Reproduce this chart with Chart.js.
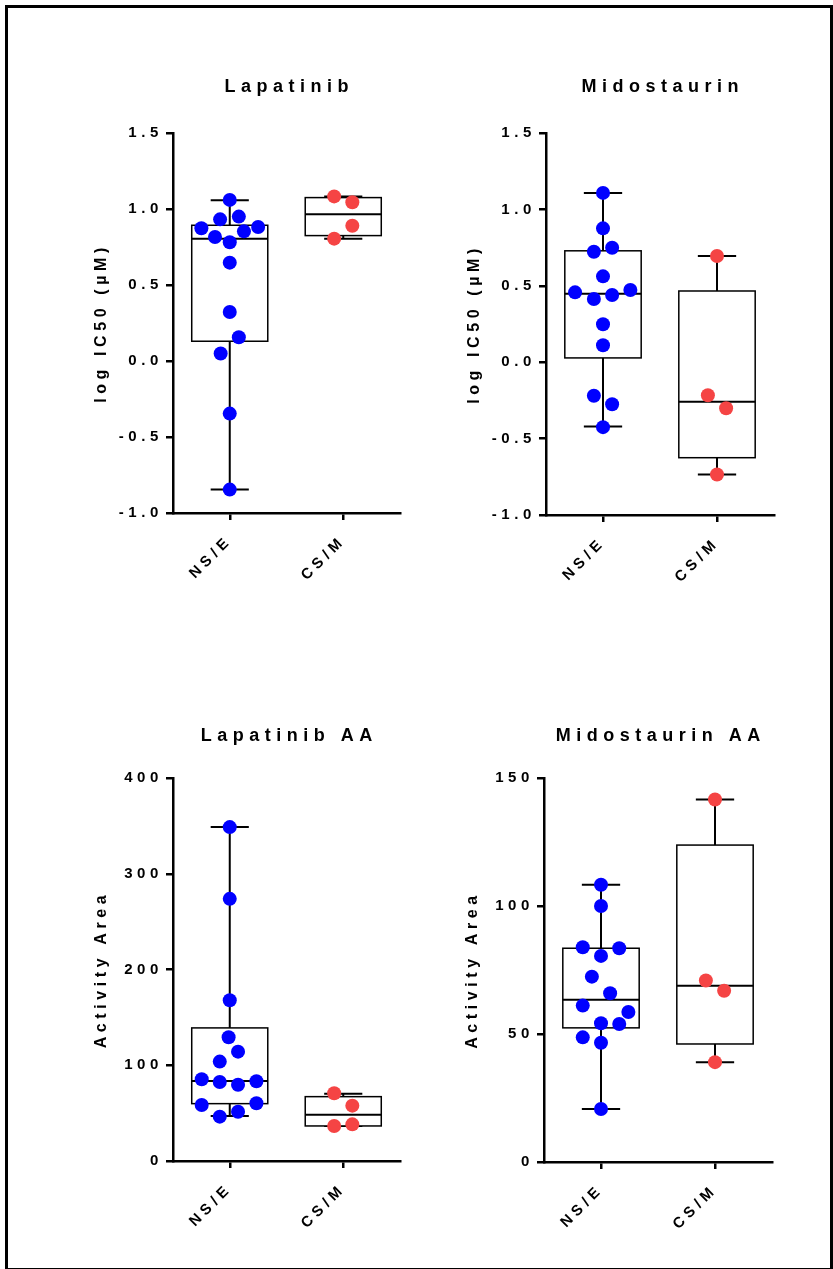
<!DOCTYPE html>
<html>
<head>
<meta charset="utf-8">
<script src="https://cdn.jsdelivr.net/npm/chart.js@4.4.1/dist/chart.umd.min.js"></script>
<style>
  html, body { margin: 0; padding: 0; background: #fff; }
  body { width: 833px; height: 1269px; position: relative; overflow: hidden; }
  #frame { position: absolute; left: 5px; top: 5px; width: 828px; height: 1266px;
           border: 3px solid #000; box-sizing: border-box; }
  canvas { position: absolute; }
</style>
</head>
<body>
<div id="frame"></div>
<canvas id="lap"></canvas>
<canvas id="mido"></canvas>
<canvas id="lapAA"></canvas>
<canvas id="midoAA"></canvas>
<script>
const categories = ['NS/E', 'CS/M'];

// Lapatinib - log IC50 (µM)
const lapNsE = [1.06, 0.932, 0.95, 0.873, 0.882, 0.816, 0.853, 0.781, 0.647, 0.322, 0.156, 0.049, -0.346, -0.846];
const lapNsEJitter = [0, -0.085, 0.08, -0.25, 0.25, -0.13, 0.125, 0, 0, 0, 0.08, -0.08, 0, 0];
const lapCsM = [1.083, 1.044, 0.89, 0.805];
const lapCsMJitter = [-0.08, 0.08, 0.08, -0.08];
// [min, q1, median, q3, max]
const lapBoxNsE = [-0.846, 0.13, 0.805, 0.893, 1.057];
const lapBoxCsM = [0.805, 0.825, 0.965, 1.075, 1.083];

// Midostaurin - log IC50 (µM)
const midoNsE = [1.108, 0.876, 0.723, 0.749, 0.562, 0.457, 0.414, 0.44, 0.473, 0.248, 0.111, -0.22, -0.275, -0.425];
const midoNsEJitter = [0, 0, -0.08, 0.08, 0, -0.245, -0.08, 0.08, 0.24, 0, 0, -0.08, 0.08, 0];
const midoCsM = [0.695, -0.216, -0.301, -0.735];
const midoCsMJitter = [0, -0.08, 0.08, 0];
const midoBoxNsE = [-0.421, 0.028, 0.448, 0.729, 1.108];
const midoBoxCsM = [-0.735, -0.625, -0.259, 0.466, 0.695];

// Lapatinib AA - Activity Area
const lapAANsE = [348.7, 273.8, 167.9, 129.3, 114.2, 103.8, 85.4, 82.5, 79.7, 83.3, 58.5, 60.3, 51.5, 46.3];
const lapAANsEJitter = [0, 0, 0, -0.01, 0.073, -0.088, -0.247, -0.088, 0.073, 0.235, -0.247, 0.235, 0.073, -0.088];
const lapAACsM = [70.7, 57.8, 36.6, 38.3];
const lapAACsMJitter = [-0.08, 0.08, -0.08, 0.08];
const lapAABoxNsE = [47, 59.9, 83.6, 139, 348.7];
const lapAABoxCsM = [36.6, 36.6, 48.4, 67.2, 70.3];

// Midostaurin AA - Activity Area
const midoAANsE = [108.3, 100, 83.9, 83.5, 80.5, 72.4, 65.9, 61.1, 58.6, 54.2, 53.9, 48.7, 46.6, 20.7];
const midoAANsEJitter = [0, 0, -0.16, 0.16, 0, -0.08, 0.08, -0.16, 0.24, 0, 0.16, -0.16, 0, 0];
const midoAACsM = [141.6, 70.9, 66.9, 39];
const midoAACsMJitter = [0, -0.08, 0.08, 0];
const midoAABoxNsE = [20.7, 52.4, 63.4, 83.5, 108.3];
const midoAABoxCsM = [39, 46.1, 68.8, 123.8, 141.6];

const BLUE = '#0000ff';
const RED = '#f54444';
const BOX_HALF = 0.335;
const CAP_HALF = 0.168;
const Y_WIDTH = 93;
const X_HEIGHT = 90;
const PAD_TOP = 72;
const PAD_RIGHT = 12;
const SPACING = '4.6px';

Chart.defaults.font.family = '"Liberation Sans", Arial, sans-serif';
Chart.defaults.color = '#000';

function points(values, jitter, cat) {
    return values.map((v, i) => ({ x: cat + jitter[i], y: v }));
}

function makePanel(id, spec) {
    const canvas = document.getElementById(id);
    const left = spec.area[0] - Y_WIDTH;
    const top = spec.area[2] - PAD_TOP;
    canvas.width = spec.area[1] - left + PAD_RIGHT;
    canvas.height = spec.area[3] - top + X_HEIGHT;
    canvas.style.left = left + 'px';
    canvas.style.top = top + 'px';

    const axisLine = {
        grid: { drawOnChartArea: false, drawTicks: true, tickLength: 7, color: '#000', lineWidth: 2.5 },
        border: { display: true, color: '#000', width: 2.5 }
    };
    const tickFont = { size: 15, weight: 'bold' };

    return new Chart(canvas, {
        type: 'scatter',
        data: {
            datasets: [
                { data: points(spec.nse, spec.nseJitter, 0), backgroundColor: BLUE },
                { data: points(spec.csm, spec.csmJitter, 1), backgroundColor: RED }
            ]
        },
        options: {
            responsive: false,
            animation: false,
            events: [],
            layout: { padding: { top: PAD_TOP, right: PAD_RIGHT, left: 0, bottom: 0 } },
            elements: { point: { radius: 7, borderWidth: 0, hoverRadius: 7 } },
            plugins: { legend: { display: false }, tooltip: { enabled: false } },
            scales: {
                x: {
                    type: 'linear',
                    min: -0.5,
                    max: 1.5,
                    afterBuildTicks: s => { s.ticks = categories.map((c, i) => ({ value: i })); },
                    afterFit: s => { s.height = X_HEIGHT; },
                    ticks: {
                        autoSkip: false, minRotation: 45, maxRotation: 45, padding: 12,
                        font: tickFont, color: '#000',
                        callback: v => categories[v]
                    },
                    ...axisLine
                },
                y: {
                    type: 'linear',
                    min: spec.min,
                    max: spec.max,
                    afterFit: s => { s.width = Y_WIDTH; },
                    ticks: {
                        stepSize: spec.step, padding: 3, font: tickFont, color: '#000',
                        callback: v => v.toFixed(spec.decimals)
                    },
                    title: {
                        display: true, text: spec.yTitle, color: '#000',
                        font: { size: 16, weight: 'bold' },
                        padding: { top: 12, bottom: 0 }
                    },
                    ...axisLine
                }
            }
        },
        plugins: [{
            id: 'spacing',
            beforeLayout: chart => { chart.ctx.letterSpacing = SPACING; },
            beforeDraw: chart => { chart.ctx.letterSpacing = SPACING; }
        }, {
            id: 'boxes',
            beforeDatasetsDraw: chart => {
                const { ctx, scales: { x, y } } = chart;
                ctx.save();
                ctx.strokeStyle = '#000';
                spec.boxes.forEach((b, i) => {
                    const [lo, q1, med, q3, hi] = b;
                    const cx = x.getPixelForValue(i);
                    const bl = x.getPixelForValue(i - BOX_HALF), br = x.getPixelForValue(i + BOX_HALF);
                    const cl = x.getPixelForValue(i - CAP_HALF), cr = x.getPixelForValue(i + CAP_HALF);
                    const yLo = y.getPixelForValue(lo), yHi = y.getPixelForValue(hi);
                    ctx.lineWidth = 2;
                    ctx.beginPath();
                    ctx.moveTo(cx, yLo); ctx.lineTo(cx, yHi);
                    ctx.moveTo(cl, yLo); ctx.lineTo(cr, yLo);
                    ctx.moveTo(cl, yHi); ctx.lineTo(cr, yHi);
                    ctx.stroke();
                    const yTop = y.getPixelForValue(q3), yBot = y.getPixelForValue(q1);
                    ctx.fillStyle = '#fff';
                    ctx.fillRect(bl, yTop, br - bl, yBot - yTop);
                    ctx.lineWidth = 1.5;
                    ctx.strokeRect(bl, yTop, br - bl, yBot - yTop);
                    ctx.lineWidth = 2;
                    const yMed = y.getPixelForValue(med);
                    ctx.beginPath();
                    ctx.moveTo(bl, yMed); ctx.lineTo(br, yMed);
                    ctx.stroke();
                });
                ctx.restore();
            }
        }, {
            id: 'panelTitle',
            afterDraw: chart => {
                const ctx = chart.ctx, a = chart.chartArea;
                ctx.save();
                ctx.font = 'bold 18px "Liberation Sans", Arial, sans-serif';
                ctx.letterSpacing = '5.5px';
                ctx.fillStyle = '#000';
                ctx.textAlign = 'center';
                ctx.textBaseline = 'alphabetic';
                ctx.fillText(spec.title, (a.left + a.right) / 2 + 2.75, a.top - spec.titleGap);
                ctx.restore();
            }
        }]
    });
}

makePanel('lap', {
    title: 'Lapatinib', titleGap: 41, yTitle: 'log IC50 (µM)', area: [173, 400, 133, 513],
    min: -1, max: 1.5, step: 0.5, decimals: 1,
    nse: lapNsE, nseJitter: lapNsEJitter, csm: lapCsM, csmJitter: lapCsMJitter,
    boxes: [lapBoxNsE, lapBoxCsM]
});
makePanel('mido', {
    title: 'Midostaurin', titleGap: 41, yTitle: 'log IC50 (µM)', area: [546, 774, 133, 515],
    min: -1, max: 1.5, step: 0.5, decimals: 1,
    nse: midoNsE, nseJitter: midoNsEJitter, csm: midoCsM, csmJitter: midoCsMJitter,
    boxes: [midoBoxNsE, midoBoxCsM]
});
makePanel('lapAA', {
    title: 'Lapatinib AA', titleGap: 37, yTitle: 'Activity Area', area: [173, 400, 778, 1161],
    min: 0, max: 400, step: 100, decimals: 0,
    nse: lapAANsE, nseJitter: lapAANsEJitter, csm: lapAACsM, csmJitter: lapAACsMJitter,
    boxes: [lapAABoxNsE, lapAABoxCsM]
});
makePanel('midoAA', {
    title: 'Midostaurin AA', titleGap: 37, yTitle: 'Activity Area', area: [544, 772, 778, 1162],
    min: 0, max: 150, step: 50, decimals: 0,
    nse: midoAANsE, nseJitter: midoAANsEJitter, csm: midoAACsM, csmJitter: midoAACsMJitter,
    boxes: [midoAABoxNsE, midoAABoxCsM]
});
</script>
</body>
</html>
